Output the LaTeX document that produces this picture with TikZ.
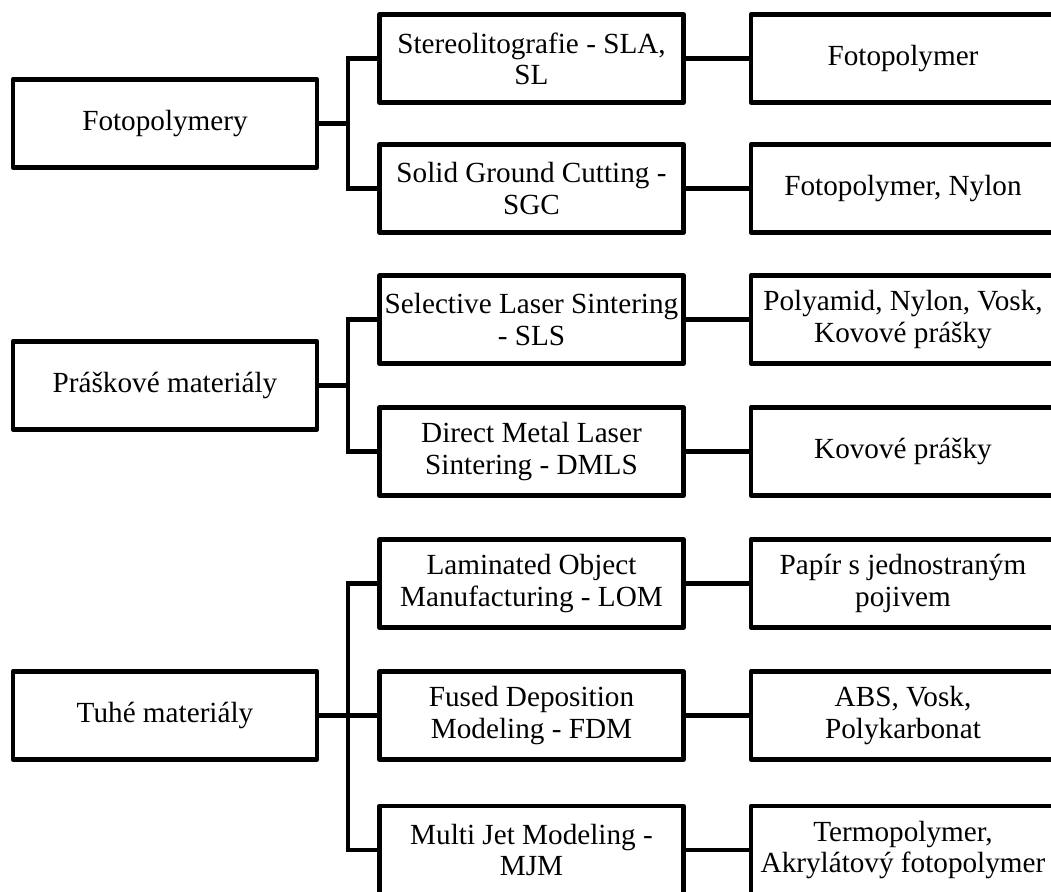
\documentclass[tikz,border=0pt]{standalone}
\usepackage{fontspec}
\setmainfont{Liberation Serif}

\begin{document}
\begin{tikzpicture}[x=0.5pt,y=-0.5pt]
\tikzstyle{box}=[draw=black, line width=2.4pt, line join=round, minimum width=152pt, minimum height=44pt, inner sep=0pt, align=center, font=\fontsize{14.6}{15.6}\selectfont]
\tikzstyle{link}=[black, line width=2.4pt]
\clip (0,0) rectangle (1051,892);
% groups
\node[box] (foto) at (165,123.5) {Fotopolymery};
\node[box] (prasek) at (165,385.5) {Práškové materiály};
\node[box] (tuhe) at (165,715.5) {Tuhé materiály};
% methods
\node[box] (sla) at (531.5,58.5) {Stereolitografie - SLA,\\SL};
\node[box] (sgc) at (531.5,188.5) {Solid Ground Cutting -\\SGC};
\node[box] (sls) at (531.5,319.5) {Selective Laser Sintering\\- SLS};
\node[box] (dmls) at (531.5,451.5) {Direct Metal Laser\\Sintering - DMLS};
\node[box] (lom) at (531.5,583.5) {Laminated Object\\Manufacturing - LOM};
\node[box] (fdm) at (531.5,715.5) {Fused Deposition\\Modeling - FDM};
\node[box] (mjm) at (531.5,850) {Multi Jet Modeling -\\MJM};
% materials
\node[box] (sla-m) at (903,58.5) {Fotopolymer};
\node[box] (sgc-m) at (903,188.5) {Fotopolymer, Nylon};
\node[box] (sls-m) at (903,319.5) {Polyamid, Nylon, Vosk,\\Kovové prášky};
\node[box] (dmls-m) at (903,451.5) {Kovové prášky};
\node[box] (lom-m) at (903,583.5) {Papír s jednostraným\\pojivem};
\node[box] (fdm-m) at (903,715.5) {ABS, Vosk,\\Polykarbonat};
\node[box] (mjm-m) at (903,850) {Termopolymer,\\Akrylátový fotopolymer};
% forks
\coordinate (fork1) at (348,123.5);
\coordinate (fork2) at (348,385.5);
\coordinate (fork3) at (348,715.5);
\draw[link] (foto) -- (fork1);
\draw[link] (sla.west) -| (fork1) |- (sgc.west);
\draw[link] (prasek) -- (fork2);
\draw[link] (sls.west) -| (fork2) |- (dmls.west);
\draw[link] (tuhe) -- (fdm);
\draw[link] (lom.west) -| (fork3) |- (mjm.west);
\draw[link] (sla) -- (sla-m);
\draw[link] (sgc) -- (sgc-m);
\draw[link] (sls) -- (sls-m);
\draw[link] (dmls) -- (dmls-m);
\draw[link] (lom) -- (lom-m);
\draw[link] (fdm) -- (fdm-m);
\draw[link] (mjm) -- (mjm-m);
\end{tikzpicture}
\end{document}
